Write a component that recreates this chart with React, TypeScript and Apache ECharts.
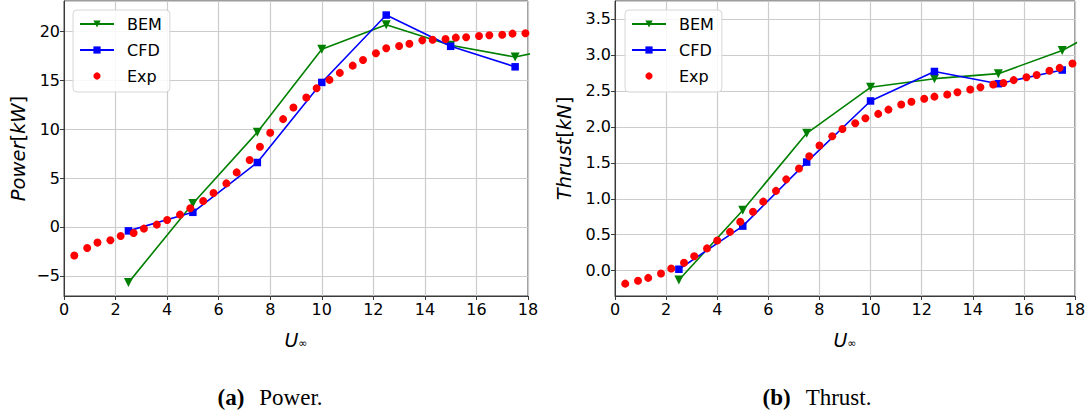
import React, { useEffect, useRef } from "react";
import * as echarts from "echarts";

// Free-stream speeds of the simulated points
const U_BEM = [2.5, 5, 7.5, 10, 12.5, 15, 17.5, 20];
const U_CFD = [2.5, 5, 7.5, 10, 12.5, 15, 17.5];
// Measurement speeds of the experiment
const U_EXP = [
  0.4, 0.9, 1.3, 1.8, 2.2, 2.7, 3.1, 3.6, 4.0, 4.5, 4.9, 5.4, 5.8, 6.3, 6.7, 7.2, 7.6, 8.0, 8.5, 8.9,
  9.4, 9.8, 10.3, 10.7, 11.2, 11.6, 12.1, 12.5, 13.0, 13.4, 13.9, 14.3, 14.8, 15.2, 15.6, 16.1, 16.5,
  17.0, 17.4, 17.9,
];

// Power [kW]
const POWER_BEM = [-5.7, 2.4, 9.7, 18.2, 20.7, 18.6, 17.4, 18.8];
const POWER_CFD = [-0.4, 1.5, 6.6, 14.8, 21.7, 18.5, 16.4];
const POWER_EXP = [
  -2.93, -2.15, -1.6, -1.36, -0.92, -0.61, -0.17, 0.24, 0.72, 1.26, 1.91, 2.66, 3.48, 4.46, 5.59, 6.85,
  8.21, 9.64, 11.04, 12.23, 13.25, 14.21, 15.06, 15.78, 16.52, 17.1, 17.79, 18.3, 18.53, 18.77, 19.11,
  19.18, 19.25, 19.39, 19.42, 19.56, 19.63, 19.69, 19.8, 19.83,
];

// Thrust [kN]
const THRUST_BEM = [-0.13, 0.84, 1.91, 2.55, 2.67, 2.74, 3.06, 3.55];
const THRUST_CFD = [0.02, 0.62, 1.51, 2.36, 2.77, 2.6, 2.79];
const THRUST_EXP = [
  -0.18, -0.14, -0.1, -0.04, 0.03, 0.11, 0.2, 0.31, 0.42, 0.54, 0.68, 0.82, 0.96, 1.11, 1.27, 1.42,
  1.59, 1.74, 1.87, 1.97, 2.05, 2.12, 2.18, 2.24, 2.31, 2.35, 2.39, 2.42, 2.45, 2.48, 2.52, 2.55, 2.59,
  2.61, 2.65, 2.69, 2.72, 2.78, 2.82, 2.88,
];

const SERIES_NAMES = ["BEM", "CFD", "Exp"];
const CAPTIONS = [
  { tag: "(a)", text: "Power." },
  { tag: "(b)", text: "Thrust." },
];

const SANS = "DejaVu Sans";
const SERIF = "Liberation Serif";
const SPINE = "#3a3a3a";
const GRID = "#cccccc";

const pairs = (xs: number[], ys: number[]) => ys.map((y, i) => [xs[i], y]);

const minusSign = (v: number) => (v < 0 ? "\u2212" + String(Math.abs(v)) : String(v));

function xAxis(gridIndex: number) {
  return {
    type: "value",
    gridIndex,
    min: 0,
    max: 18,
    interval: 2,
    name: "{u|U}{s|\u221e}",
    nameLocation: "middle",
    nameGap: 34,
    nameTextStyle: {
      rich: {
        u: { fontFamily: SANS, fontStyle: "italic", fontSize: 19, color: "#000" },
        s: { fontFamily: SANS, fontSize: 11, color: "#000", verticalAlign: "bottom", padding: [6, 0, 0, 0] },
      },
    },
    axisLine: { show: true, onZero: false, lineStyle: { color: SPINE, width: 1 } },
    axisTick: { show: true, length: 4, lineStyle: { color: SPINE } },
    axisLabel: { fontFamily: SANS, fontSize: 16, color: "#000", margin: 5 },
    splitLine: { show: true, lineStyle: { color: GRID, width: 1.2 } },
  };
}

function yAxis(
  gridIndex: number,
  min: number,
  max: number,
  splitNumber: number,
  label: string,
  unit: string,
  nameGap: number,
  fmt: (v: number) => string
) {
  return {
    type: "value",
    gridIndex,
    min,
    max,
    splitNumber,
    name: `{i|${label}}{n|[}{i|${unit}}{n|]}`,
    nameLocation: "middle",
    nameGap,
    nameTextStyle: {
      rich: {
        i: { fontFamily: SANS, fontStyle: "italic", fontSize: 19.5, color: "#000" },
        n: { fontFamily: SANS, fontSize: 19.5, color: "#000" },
      },
    },
    axisLine: { show: true, onZero: false, lineStyle: { color: SPINE, width: 1 } },
    axisTick: { show: true, length: 4, lineStyle: { color: SPINE } },
    axisLabel: {
      fontFamily: SANS,
      fontSize: 16,
      color: "#000",
      margin: 4,
      showMinLabel: false,
      showMaxLabel: false,
      formatter: fmt,
    },
    splitLine: { show: true, lineStyle: { color: GRID, width: 1.2 } },
  };
}

function seriesFor(axisIndex: number, bem: number[], cfd: number[], exp: number[]) {
  return [
    {
      name: "BEM",
      type: "line",
      xAxisIndex: axisIndex,
      yAxisIndex: axisIndex,
      data: pairs(U_BEM, bem),
      color: "#008000",
      lineStyle: { width: 1.6, color: "#008000" },
      symbol: "triangle",
      symbolRotate: 180,
      symbolSize: 9,
      showAllSymbol: true,
      clip: true,
      z: 2,
    },
    {
      name: "CFD",
      type: "line",
      xAxisIndex: axisIndex,
      yAxisIndex: axisIndex,
      data: pairs(U_CFD, cfd),
      color: "#0000ff",
      lineStyle: { width: 1.6, color: "#0000ff" },
      symbol: "rect",
      symbolSize: 7.5,
      showAllSymbol: true,
      clip: true,
      z: 3,
    },
    {
      name: "Exp",
      type: "line",
      xAxisIndex: axisIndex,
      yAxisIndex: axisIndex,
      data: pairs(U_EXP, exp),
      color: "#ff0000",
      lineStyle: { width: 0, opacity: 0 },
      symbol: "circle",
      symbolSize: 8,
      showAllSymbol: true,
      clip: true,
      z: 4,
    },
  ];
}

function legendAt(left: number) {
  return {
    orient: "vertical",
    left,
    top: 10,
    data: SERIES_NAMES,
    itemWidth: 34,
    itemHeight: 9,
    itemGap: 10,
    padding: [6, 8, 8, 6],
    backgroundColor: "rgba(255,255,255,0.85)",
    borderColor: "#d6d6d6",
    borderWidth: 1,
    borderRadius: 4,
    selectedMode: false,
    textStyle: { fontFamily: SANS, fontSize: 16, color: "#000", lineHeight: 16, padding: [0, 0, 0, 8] },
  };
}

function caption(cx: number, idx: number) {
  const c = CAPTIONS[idx];
  return {
    type: "text",
    x: cx,
    y: 397,
    style: {
      text: `{b|${c.tag}}{r|${c.text}}`,
      align: "center",
      verticalAlign: "middle",
      textAlign: "center",
      textVerticalAlign: "middle",
      rich: {
        b: { fontFamily: SERIF, fontWeight: "bold", fontSize: 23, fill: "#000", color: "#000" },
        r: { fontFamily: SERIF, fontSize: 23, fill: "#000", color: "#000", padding: [0, 0, 0, 15] },
      },
    },
  };
}

export default function App() {
  const ref = useRef<HTMLDivElement>(null);

  useEffect(() => {
    if (!ref.current) return;
    const chart = echarts.init(ref.current, null, { renderer: "svg" });
    chart.setOption({
      animation: false,
      backgroundColor: "#ffffff",
      grid: [
        { left: 64, top: 1, width: 464, height: 295, show: true, borderColor: SPINE, borderWidth: 1 },
        { left: 615, top: 1, width: 460, height: 295, show: true, borderColor: SPINE, borderWidth: 1 },
      ],
      xAxis: [xAxis(0), xAxis(1)],
      yAxis: [
        yAxis(0, -7.07, 23.14, 6, "Power", "kW", 36, minusSign),
        yAxis(1, -0.352, 3.75, 8, "Thrust", "kN", 41, (v: number) => minusSign(Number(v.toFixed(1))).replace(/^(\u2212?\d+)$/, "$1.0")),
      ],
      legend: [legendAt(73), legendAt(625)],
      series: [
        ...seriesFor(0, POWER_BEM, POWER_CFD, POWER_EXP),
        ...seriesFor(1, THRUST_BEM, THRUST_CFD, THRUST_EXP),
      ],
      graphic: [caption(270, 0), caption(817, 1)],
    });
    return () => chart.dispose();
  }, []);

  return (
    <div
      ref={ref}
      style={{ position: "fixed", left: 0, top: 0, width: 1089, height: 416, background: "#fff" }}
    />
  );
}
